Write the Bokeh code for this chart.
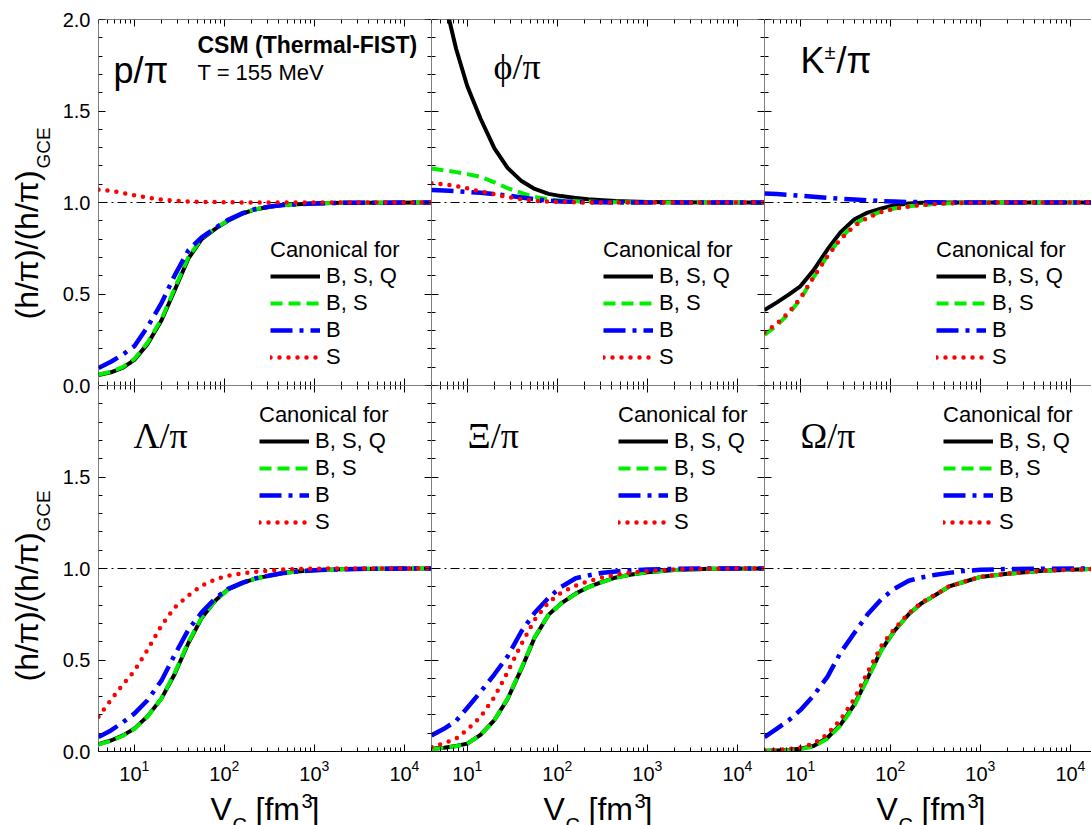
import math

from bokeh.core.properties import value
from bokeh.embed import file_html
from bokeh.layouts import column, row
from bokeh.models import (FixedTicker, Label, Legend, LegendItem, LinearAxis, LogAxis,
                          Range1d, SingleIntervalTicker, Span)
from bokeh.plotting import figure
from bokeh.resources import INLINE

# Correlation volume V_C [fm^3] at which the ratios are sampled
V = [4, 5.5, 7.5, 10, 14, 20, 28, 40, 56, 80, 110, 160, 220, 320, 450, 640, 1000, 2000, 5000, 20000]

# (h/pi)/(h/pi)_GCE for each hadron, canonical treatment of B,S,Q / B,S / B / S
p_bsq = [0.057, 0.072, 0.098, 0.14, 0.226, 0.355, 0.519, 0.695, 0.80, 0.857, 0.90, 0.94, 0.962, 0.977, 0.986, 0.991, 0.995, 0.998, 0.999, 1.0]
p_bs = [0.06, 0.075, 0.102, 0.145, 0.233, 0.362, 0.53, 0.703, 0.805, 0.86, 0.902, 0.941, 0.963, 0.977, 0.986, 0.991, 0.995, 0.998, 0.999, 1.0]
p_b = [0.095, 0.13, 0.17, 0.215, 0.32, 0.45, 0.6, 0.74, 0.81, 0.862, 0.905, 0.942, 0.964, 0.978, 0.986, 0.991, 0.995, 0.998, 0.999, 1.0]
p_s = [1.07, 1.063, 1.052, 1.04, 1.027, 1.016, 1.009, 1.005, 1.003, 1.002, 1.001, 1.0, 1.0, 1.0, 1.0, 1.0, 1.0, 1.0, 1.0, 1.0]

phi_bsq = [2.45, 2.12, 1.84, 1.635, 1.459, 1.296, 1.189, 1.117, 1.074, 1.047, 1.035, 1.025, 1.018, 1.012, 1.008, 1.006, 1.003, 1.001, 1.0, 1.0]
phi_bs = [1.186, 1.176, 1.166, 1.155, 1.14, 1.11, 1.078, 1.052, 1.03, 1.018, 1.011, 1.007, 1.005, 1.003, 1.002, 1.001, 1.001, 1.0, 1.0, 1.0]
phi_b = [1.068, 1.066, 1.062, 1.058, 1.053, 1.046, 1.038, 1.027, 1.018, 1.01, 1.006, 1.003, 1.002, 1.001, 1.0, 1.0, 1.0, 1.0, 1.0, 1.0]
phi_s = [1.105, 1.1, 1.09, 1.077, 1.06, 1.045, 1.03, 1.018, 1.01, 1.005, 1.003, 1.001, 1.0, 1.0, 1.0, 1.0, 1.0, 1.0, 1.0, 1.0]

k_bsq = [0.412, 0.454, 0.498, 0.542, 0.629, 0.743, 0.838, 0.908, 0.945, 0.968, 0.985, 0.994, 0.998, 0.999, 1.0, 1.0, 1.0, 1.0, 1.0, 1.0]
k_bs = [0.276, 0.329, 0.394, 0.47, 0.59, 0.709, 0.806, 0.882, 0.923, 0.951, 0.967, 0.979, 0.986, 0.992, 0.996, 0.998, 0.999, 1.0, 1.0, 1.0]
k_b = [1.049, 1.046, 1.042, 1.037, 1.031, 1.025, 1.02, 1.016, 1.012, 1.008, 1.005, 1.003, 1.002, 1.001, 1.0, 1.0, 1.0, 1.0, 1.0, 1.0]
k_s = [0.29, 0.338, 0.402, 0.478, 0.592, 0.706, 0.8, 0.872, 0.917, 0.948, 0.965, 0.978, 0.986, 0.992, 0.996, 0.998, 0.999, 1.0, 1.0, 1.0]

lam_bsq = [0.04, 0.06, 0.088, 0.125, 0.192, 0.289, 0.422, 0.594, 0.729, 0.826, 0.886, 0.921, 0.945, 0.961, 0.975, 0.983, 0.99, 0.996, 0.999, 1.0]
lam_bs = [0.038, 0.058, 0.086, 0.123, 0.19, 0.29, 0.428, 0.6, 0.732, 0.826, 0.884, 0.92, 0.944, 0.961, 0.975, 0.983, 0.99, 0.996, 0.999, 1.0]
lam_b = [0.079, 0.115, 0.16, 0.207, 0.28, 0.387, 0.527, 0.667, 0.76, 0.838, 0.889, 0.923, 0.946, 0.962, 0.975, 0.983, 0.99, 0.996, 0.999, 1.0]
lam_s = [0.19, 0.282, 0.367, 0.44, 0.555, 0.688, 0.787, 0.853, 0.906, 0.942, 0.961, 0.973, 0.982, 0.989, 0.995, 0.997, 0.999, 1.0, 1.0, 1.0]

xi_bsq = [0.015, 0.02, 0.03, 0.043, 0.091, 0.172, 0.287, 0.453, 0.623, 0.748, 0.809, 0.863, 0.898, 0.928, 0.951, 0.966, 0.98, 0.992, 0.998, 1.0]
xi_bs = [0.013, 0.019, 0.029, 0.043, 0.09, 0.172, 0.29, 0.457, 0.625, 0.748, 0.808, 0.861, 0.897, 0.927, 0.95, 0.966, 0.98, 0.992, 0.998, 1.0]
xi_b = [0.088, 0.124, 0.167, 0.239, 0.325, 0.422, 0.52, 0.657, 0.758, 0.84, 0.899, 0.947, 0.962, 0.977, 0.984, 0.99, 0.995, 0.998, 1.0, 1.0]
xi_s = [0.024, 0.044, 0.07, 0.12, 0.189, 0.298, 0.434, 0.588, 0.72, 0.816, 0.868, 0.907, 0.93, 0.952, 0.966, 0.977, 0.986, 0.995, 0.999, 1.0]

om_bsq = [0.004, 0.006, 0.009, 0.015, 0.03, 0.075, 0.147, 0.258, 0.402, 0.557, 0.657, 0.75, 0.809, 0.857, 0.902, 0.925, 0.954, 0.971, 0.988, 0.998]
om_bs = [0.003, 0.005, 0.008, 0.013, 0.027, 0.07, 0.142, 0.252, 0.398, 0.555, 0.656, 0.75, 0.809, 0.857, 0.902, 0.925, 0.954, 0.971, 0.988, 0.998]
om_b = [0.079, 0.125, 0.172, 0.226, 0.305, 0.408, 0.54, 0.649, 0.75, 0.834, 0.889, 0.933, 0.951, 0.966, 0.976, 0.986, 0.993, 0.997, 0.999, 1.0]
om_s = [0.006, 0.009, 0.013, 0.022, 0.042, 0.095, 0.175, 0.29, 0.435, 0.58, 0.668, 0.755, 0.812, 0.858, 0.903, 0.926, 0.955, 0.972, 0.988, 0.998]

CASES = ["B, S, Q", "B, S", "B", "S"]

# tick labels of the shared y axis strip: lower row 0..2, upper row 2..4
Y_STRIP_LABELS = {0: "0.0", 0.5: "0.5", 1: "1.0", 1.5: "1.5",
                  2: "0.0", 2.5: "0.5", 3: "1.0", 3.5: "1.5", 4: "2.0"}

# line styles of the four canonical treatments
COLORS = ["black", "#00ee00", "#0000ff", "#ff0000"]
DASHES = ["solid", "12 6", "22 7 4 7", "0 9"]
WIDTHS = [4, 4, 4.5, 4.5]
CAPS = ["butt", "butt", "butt", "round"]

X_MIN, X_MAX = 4, 20000
Y_MIN, Y_MAX = 0, 2
FRAME_W, FRAME_H = 333, 366
LAST_W = 327            # right-hand column runs off the page edge
TITLE_W, TICK_W = 55, 43
TOP_PAD, BOTTOM_PAD, XTITLE_H = 19, 40, 34
PAGE_W = TITLE_W + TICK_W + 2 * FRAME_W + LAST_W

SANS = "Liberation Sans"
SERIF = "Liberation Serif"

MAJOR_X = [10, 100, 1000, 10000]
MINOR_X = [m * 10 ** k for k in range(0, 5) for m in range(2, 10) if X_MIN <= m * 10 ** k <= X_MAX]


def style_axis(ax, show_labels, fixed=None):
    ax.axis_line_color = "black"
    ax.axis_line_width = 1
    ax.major_tick_line_color = "black"
    ax.minor_tick_line_color = "black"
    ax.major_tick_in = 7
    ax.major_tick_out = 0
    ax.minor_tick_in = 4
    ax.minor_tick_out = 0
    if show_labels:
        ax.major_label_text_font = SANS
        ax.major_label_text_font_size = "20px"
        ax.major_label_text_color = "black"
        ax.major_label_standoff = 8
    else:
        # inner edges: ticks only, drawn on the frame edge without taking border space
        ax.fixed_location = fixed
        ax.major_label_text_font_size = "10px"
        ax.major_label_text_color = None
        ax.major_label_text_alpha = 0
        ax.major_label_standoff = 0


def text(p, x, y, s, size, font=SANS, style="normal", angle=0.0):
    p.add_layout(Label(x=x, y=y, x_units="screen", y_units="screen", text=s,
                       text_font=font, text_font_size=f"{size}px", text_font_style=style,
                       text_color="black", angle=angle, text_align="left",
                       text_baseline="middle"))


def blank(w, h):
    p = figure(frame_width=w, frame_height=h, x_range=Range1d(0, 1), y_range=Range1d(0, 1),
               x_axis_location=None, y_axis_location=None,
               min_border_left=0, min_border_right=0, min_border_top=0, min_border_bottom=0,
               output_backend="svg", toolbar_location=None, outline_line_color=None,
               background_fill_color="white", border_fill_color="white")
    p.grid.visible = False
    return p


def make_panel(r, c, series, legend_xy):
    fw = FRAME_W if c < 2 else LAST_W
    decades = math.log10(X_MAX) - math.log10(X_MIN)
    x_end = X_MAX if c < 2 else 10 ** (math.log10(X_MIN) + decades * fw / FRAME_W)
    p = figure(x_axis_type="log", x_range=Range1d(X_MIN, x_end), y_range=Range1d(Y_MIN, Y_MAX),
               frame_width=fw, frame_height=FRAME_H,
               min_border_left=0, min_border_right=0,
               min_border_top=TOP_PAD if r == 0 else 0,
               min_border_bottom=BOTTOM_PAD if r == 1 else 0,
               output_backend="svg", toolbar_location=None, outline_line_color=None,
               background_fill_color="white", border_fill_color="white")
    p.grid.visible = False

    xt = FixedTicker(ticks=MAJOR_X, minor_ticks=MINOR_X)
    yt = SingleIntervalTicker(interval=0.5, num_minor_ticks=5)

    bottom = p.below[0]
    bottom.ticker = xt
    style_axis(bottom, r == 1, fixed=Y_MIN)

    left = p.left[0]
    left.ticker = yt
    style_axis(left, False, fixed=X_MIN)

    top = LogAxis(ticker=xt)
    style_axis(top, False, fixed=Y_MAX)
    p.add_layout(top, "above")
    if c < 2:
        right = LinearAxis(ticker=yt)
        style_axis(right, False, fixed=x_end)
        p.add_layout(right, "right")

    p.add_layout(Span(location=1.0, dimension="width", line_color="black", line_width=1,
                      line_dash="9 4 2 4", level="underlay"))

    rends = []
    for ys, col, dash, w, cap in zip(series, COLORS, DASHES, WIDTHS, CAPS):
        rends.append(p.line(V, ys, line_color=col, line_width=w, line_dash=dash,
                            line_cap=cap, line_join="round"))

    legend = Legend(items=[LegendItem(label=value(lab), renderers=[rr]) for lab, rr in zip(CASES, rends)],
                    location=legend_xy, title="Canonical for",
                    title_text_font=SANS, title_text_font_size="22px", title_text_font_style="normal",
                    title_text_color="black",
                    label_text_font=SANS, label_text_font_size="22px", label_text_color="black",
                    glyph_width=50, glyph_height=26, label_height=26, label_standoff=6,
                    spacing=1, padding=0, margin=0, title_standoff=0,
                    border_line_color=None, background_fill_alpha=0)
    p.add_layout(legend)
    return p


p00 = make_panel(0, 0, [p_bsq, p_bs, p_b, p_s], (172, 15))
text(p00, 15, 315, "p/π", 36)
text(p00, 99, 341, "CSM (Thermal-FIST)", 23, style="bold")
text(p00, 99, 313, "T = 155 MeV", 22)

p01 = make_panel(0, 1, [phi_bsq, phi_bs, phi_b, phi_s], (172, 15))
text(p01, 62, 319, "ϕ/π", 36, font=SERIF)

p02 = make_panel(0, 2, [k_bsq, k_bs, k_b, k_s], (172, 15))
text(p02, 36, 325, "K", 36)
text(p02, 60, 334, "±", 20)
text(p02, 72, 325, "/π", 36)

p10 = make_panel(1, 0, [lam_bsq, lam_bs, lam_b, lam_s], (161, 216))
text(p10, 35, 316, "Λ/π", 36, font=SERIF)

p11 = make_panel(1, 1, [xi_bsq, xi_bs, xi_b, xi_s], (187, 216))
text(p11, 36, 316, "Ξ/π", 36, font=SERIF)

p12 = make_panel(1, 2, [om_bsq, om_bs, om_b, om_s], (179, 216))
text(p12, 36, 316, "Ω/π", 36, font=SERIF)

# shared y tick labels for both rows, right next to the panels
strip_h = 2 * FRAME_H
ytick = figure(frame_width=1, frame_height=strip_h, x_range=Range1d(0, 1), y_range=Range1d(0, 2 * Y_MAX),
               x_axis_location=None, min_border_left=TICK_W - 1, min_border_right=0,
               min_border_top=TOP_PAD, min_border_bottom=BOTTOM_PAD,
               output_backend="svg", toolbar_location=None, outline_line_color=None,
               background_fill_color="white", border_fill_color="white")
ytick.grid.visible = False
yax = ytick.left[0]
yax.ticker = SingleIntervalTicker(interval=0.5, num_minor_ticks=0)
yax.major_label_overrides = Y_STRIP_LABELS
yax.axis_line_color = None
yax.major_tick_in = 0
yax.major_tick_out = 0
yax.minor_tick_in = 0
yax.minor_tick_out = 0
yax.major_label_text_font = SANS
yax.major_label_text_font_size = "20px"
yax.major_label_text_color = "black"
yax.major_label_standoff = 7

# y axis titles (h/pi)/(h/pi)_GCE, written upwards
full_h = TOP_PAD + strip_h + BOTTOM_PAD
ytitle = blank(TITLE_W, full_h)
for start, sub in [(300, 149), (662, 512)]:
    text(ytitle, 26, full_h - start, "(h/π)/(h/π)", 32, angle=math.pi / 2)
    text(ytitle, 43, full_h - sub, "GCE", 19, angle=math.pi / 2)

# x axis titles V_C [fm^3] under each column
xtitle = blank(PAGE_W, XTITLE_H)
for col_left in [TITLE_W + TICK_W, TITLE_W + TICK_W + FRAME_W, TITLE_W + TICK_W + 2 * FRAME_W]:
    text(xtitle, col_left + 112, 17, "V", 32)
    text(xtitle, col_left + 134, 1, "C", 20)
    text(xtitle, col_left + 157, 17, "[fm", 32)
    text(xtitle, col_left + 203, 25, "3", 20)
    text(xtitle, col_left + 212, 17, "]", 32)

grid = column(row(p00, p01, p02), row(p10, p11, p12))
layout = column(row(ytitle, ytick, grid), xtitle)

open("out.html", "w").write(file_html(layout, INLINE))
